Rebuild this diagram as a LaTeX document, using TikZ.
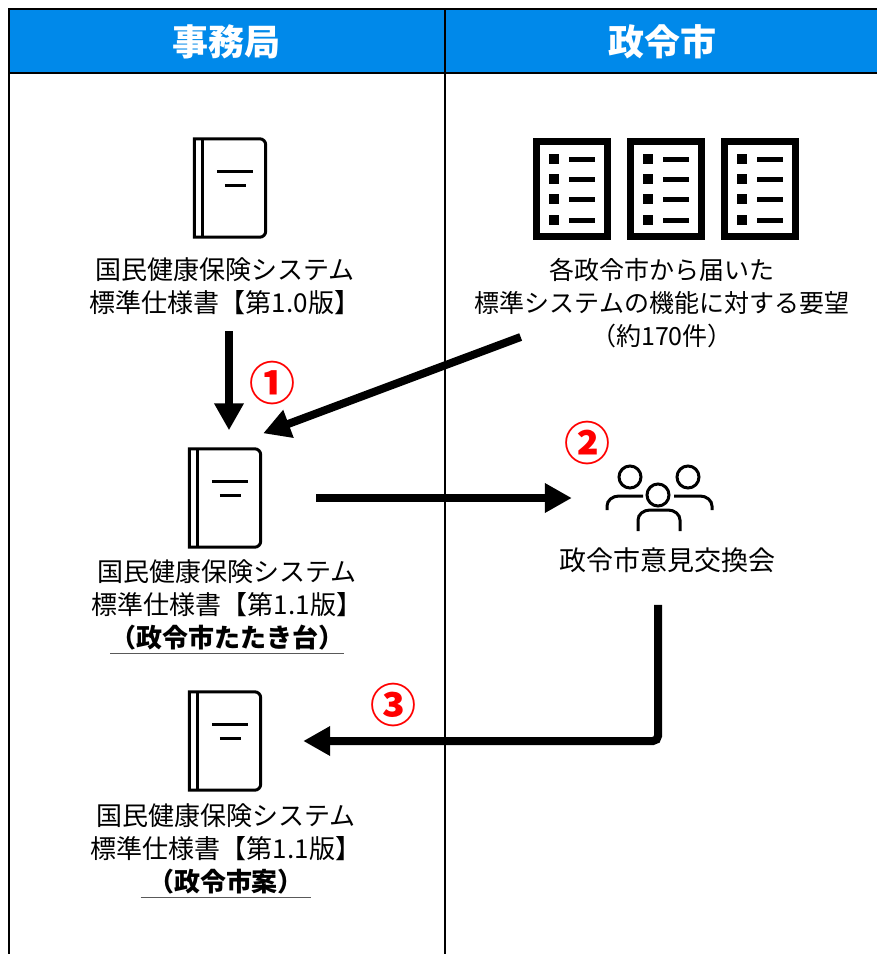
\documentclass[tikz,border=0pt]{standalone}
\usepackage{fontspec}
\setmainfont{Noto Sans CJK JP}
\usetikzlibrary{arrows.meta}
\definecolor{headblue}{RGB}{0,137,234}
\newsavebox\ulbox
\newcommand\specul[2]{\sbox\ulbox{#2}%
  \makebox[\wd\ulbox]{\makebox[0pt]{\textcolor{black!65}{\rule[-7pt]{\dimexpr\wd\ulbox+#1\relax}{1.8pt}}}}%
  \llap{\usebox\ulbox}}
\begin{document}
\begin{tikzpicture}[x=1pt,y=-1pt,
  frame/.style={line width=2pt},
  hd/.style={font=\fontsize{36}{40}\selectfont\bfseries,text=white},
  txt/.style={font=\fontsize{25}{33}\selectfont,align=center,inner sep=0pt},
  spec/.style={txt,font=\fontsize{26}{33}\selectfont},
  num/.style={font=\fontsize{46}{46}\selectfont\bfseries,text=red,inner sep=0pt},
  book/.style={minimum width=71pt,minimum height=98pt,inner sep=0pt},
  icon/.style={line width=3pt},
  listbox/.style={draw,line width=7pt,minimum width=71pt,minimum height=95pt,inner sep=0pt},
  big/.style={line width=8pt,-{Triangle[length=27pt,width=28pt]}}]
  \useasboundingbox (0,0) rectangle (877,954);
  \fill[headblue] (9,9) rectangle (877,73);
  \draw[frame] (9,954) -- (9,9) -- (877,9);
  \draw[frame] (9,73) -- (877,73);
  \draw[frame] (444.5,9) -- (444.5,954);
  \node[hd] (h1) at (226,42) {事務局};
  \node[hd] (h2) at (662,42) {政令市};
  % books
  \foreach \n/\x/\y in {1/230/188,2/225/498,3/225/741}{
    \node[book] (b\n) at (\x,\y) {};
    \draw[icon] (b\n.south west) -- (b\n.north west) [rounded corners=6pt] -- (b\n.north east) -- (b\n.south east) [sharp corners] -- cycle;
    \draw[icon] ([xshift=8.5pt]b\n.south west) -- ([xshift=8.5pt]b\n.north west);
    \draw[icon] ([xshift=22.5pt,yshift=-33pt]b\n.north west) -- ++(36,0);
    \draw[icon] ([xshift=30.5pt,yshift=-47pt]b\n.north west) -- ++(21,0);
  }
  % lists
  \foreach \i in {0,1,2}{
    \node[listbox] (l\i) at (572+94*\i,189) {};
    \foreach \r in {159,179,199,220}{
      \fill (549+94*\i,\r-5) rectangle ++(10,10);
      \draw[line width=5pt] (569+94*\i,\r) -- ++(26,0);
    }
  }
  % people
  \node[minimum width=105pt,minimum height=64pt,inner sep=0pt] (mtg) at (659.5,498) {};
  \draw[icon] (607,510) -- (607,506) arc[start angle=180,end angle=270,x radius=12,y radius=10] -- (643,496);
  \draw[icon] (674,496) -- (700,496) arc[start angle=270,end angle=360,x radius=12,y radius=10] -- (712,510);
  \draw[icon] (638,531) -- (638,520) arc[start angle=180,end angle=270,x radius=12,y radius=10] -- (668,510) arc[start angle=270,end angle=360,x radius=12,y radius=10] -- (680,531);
  \draw[icon] (630,477) circle[radius=11] (688,477) circle[radius=11] (658,495) circle[radius=11];
  \node[spec] (t1) at (225,286.5) {国民健康保険システム\\標準仕様書【第1.0版】};
  \node[txt] (req) at (662,303) {各政令市から届いた\\標準システムの機能に対する要望\\（約170件）};
  \node[spec] (t2) at (227,607) {国民健康保険システム\\標準仕様書【第1.1版】\\\textbf{\specul{0pt}{（政令市たたき台）}}};
  \node[spec] (t3) at (226,851) {国民健康保険システム\\標準仕様書【第1.1版】\\\textbf{\specul{15pt}{（政令市案）}}};
  \node[txt,font=\fontsize{27}{33}\selectfont] (mt) at (667,560) {政令市意見交換会};
  \node[num] (n1) at (272,383) {①};
  \node[num] (n2) at (587,443) {②};
  \node[num] (n3) at (393,705) {③};
  \draw[big] ([xshift=4pt,yshift=-16pt]t1.south) -- ([xshift=4pt,yshift=18.5pt]b2.north);
  \draw[big] ([xshift=46pt,yshift=11pt]req.south west) -- ([xshift=2.5pt,yshift=15.5pt]b2.north east);
  \draw[big] ([xshift=55.5pt]b2.east) -- ([xshift=-35pt]mtg.west);
  \draw[big,rounded corners=5pt] ([xshift=-9pt,yshift=-32pt]mt.south) |- ([xshift=42.5pt]b3.east);
\end{tikzpicture}
\end{document}
